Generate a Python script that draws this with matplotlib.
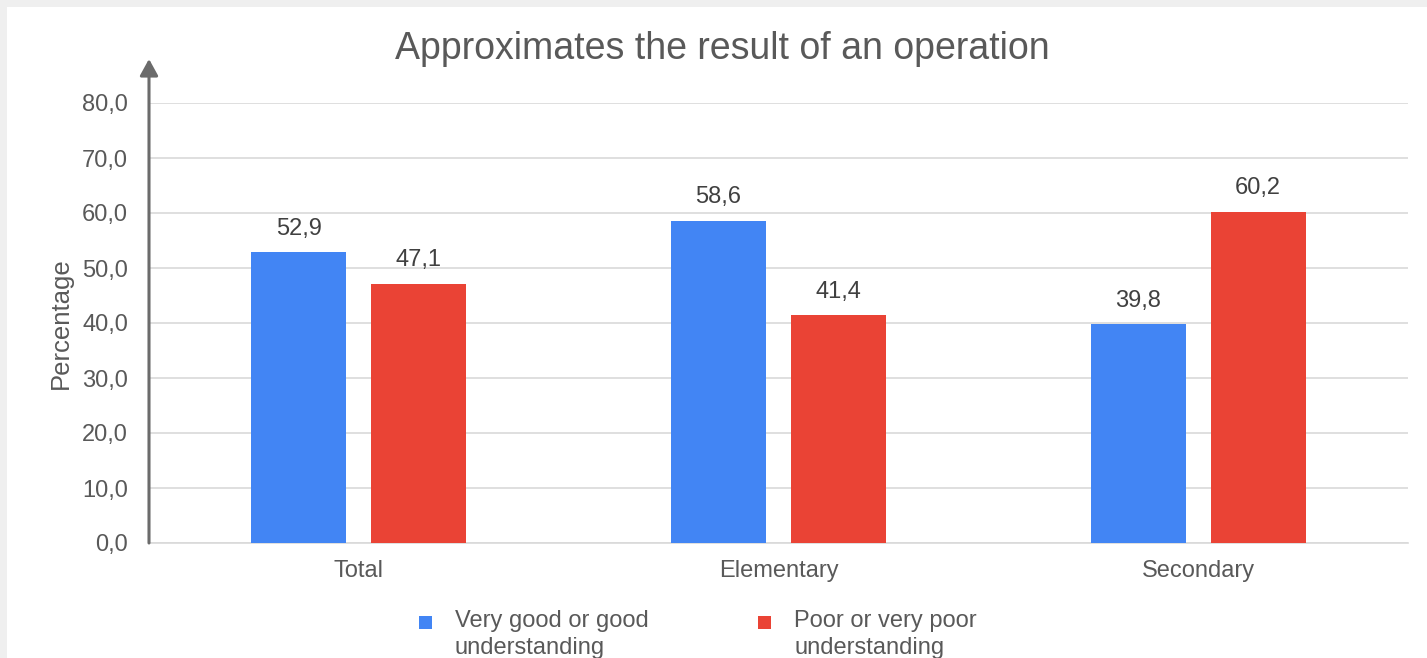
import matplotlib.pyplot as plt
import numpy as np
from matplotlib.patches import Rectangle
from matplotlib.ticker import FuncFormatter

plt.rcParams["font.family"] = ["Liberation Sans", "DejaVu Sans"]

categories = ["Total", "Elementary", "Secondary"]
good = [52.9, 58.6, 39.8]
poor = [47.1, 41.4, 60.2]
series_labels = ["Very good or good\nunderstanding", "Poor or very poor\nunderstanding"]

blue = "#4285f4"
red = "#ea4335"
text_gray = "#595959"

W, H = 1427, 658
fig = plt.figure(figsize=(W / 100, H / 100), dpi=100, facecolor="#efefef")
# white card on the grey page
fig.patches.append(Rectangle((7 / W, 0), 1, (H - 7) / H, transform=fig.transFigure,
                             facecolor="white", edgecolor="none", zorder=-10))

ax = fig.add_axes([149 / W, (H - 543) / H, (1408 - 149) / W, 440 / H])
ax.set_facecolor("none")

x = np.arange(len(categories))
width = 0.226
off = 0.143
b1 = ax.bar(x - off, good, width=width, color=blue, zorder=3)
b2 = ax.bar(x + off, poor, width=width, color=red, zorder=3)

fmt = lambda v: f"{v:.1f}".replace(".", ",")
for bars, vals in ((b1, good), (b2, poor)):
    for rect, v in zip(bars, vals):
        ax.annotate(fmt(v), (rect.get_x() + rect.get_width() / 2, v), xytext=(0, 9),
                    textcoords="offset points", ha="center", va="bottom",
                    fontsize=17, color="#404040")

ax.set_xlim(-0.5, 2.5)
ax.set_ylim(0, 80)
ax.set_yticks(np.arange(0, 81, 10))
ax.yaxis.set_major_formatter(FuncFormatter(lambda v, p: fmt(v)))
ax.set_xticks(x)
ax.set_xticklabels(categories)
ax.tick_params(axis="both", length=0, labelsize=17, labelcolor=text_gray)
ax.tick_params(axis="y", pad=15)
ax.tick_params(axis="x", pad=12)
ax.grid(axis="y", color="#d9d9d9", linewidth=1.2, zorder=0)
for s in ("top", "right", "left"):
    ax.spines[s].set_visible(False)
ax.spines["bottom"].set_color("#d9d9d9")
ax.spines["bottom"].set_linewidth(1.2)

# y axis drawn as an arrow
ax.annotate("", xy=(0, 1.1), xytext=(0, 0), xycoords="axes fraction",
            arrowprops=dict(arrowstyle="-|>,head_length=1.0,head_width=0.55",
                            color="#6b6b6b", lw=2.2, shrinkA=0, shrinkB=0),
            annotation_clip=False, zorder=5)

ax.set_ylabel("Percentage", fontsize=18.5, color=text_gray, labelpad=7)
fig.text(722 / W, 1 - 49 / H, "Approximates the result of an operation",
         ha="center", va="center", fontsize=27, color=text_gray)

# legend: square next to the first line of each two-line label
for i, (c, lab) in enumerate(zip((blue, red), series_labels)):
    x0 = 419 + i * 339
    fig.patches.append(Rectangle((x0 / W, 1 - 629 / H), 13 / W, 13 / H,
                                 transform=fig.transFigure, facecolor=c, edgecolor="none"))
    fig.text((x0 + 36) / W, 1 - 610 / H, lab, ha="left", va="top", fontsize=17,
             color=text_gray, linespacing=1.3)

fig.savefig("out.png", dpi=100, facecolor=fig.get_facecolor())
